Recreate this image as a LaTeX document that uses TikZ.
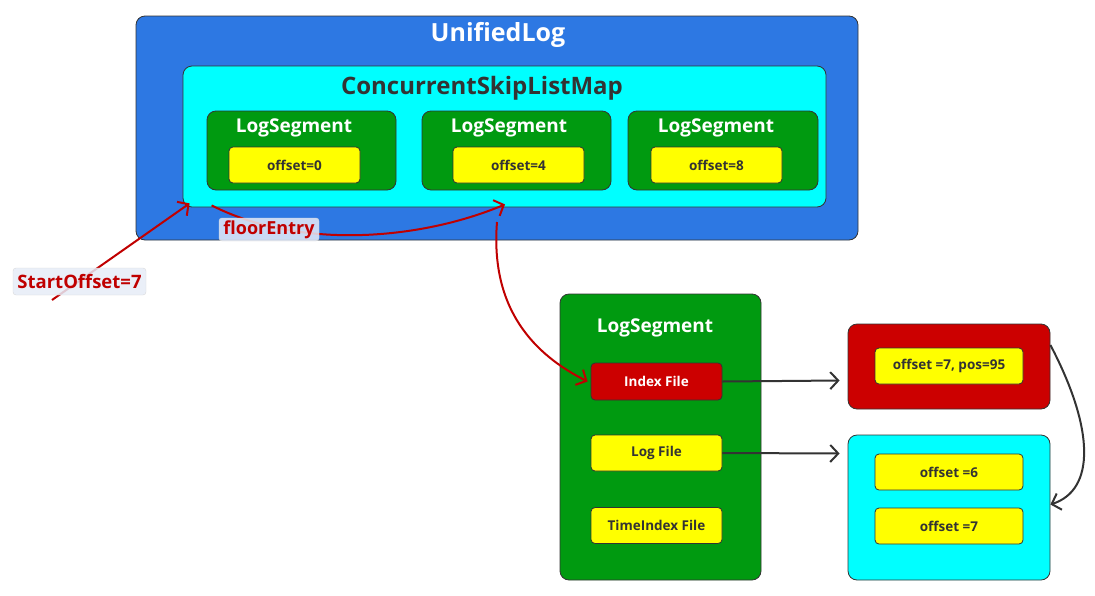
\documentclass[tikz,border=0pt]{standalone}
\usepackage{fontspec}
\setmainfont{Open Sans}
\usetikzlibrary{positioning,arrows.meta}

\definecolor{ulblue}{HTML}{2D78E3}
\definecolor{mapcyan}{HTML}{00FFFF}
\definecolor{fileyellow}{HTML}{FFFF00}
\definecolor{segreen}{HTML}{009A10}
\definecolor{boxred}{HTML}{CC0000}
\definecolor{txtred}{HTML}{C00000}
\definecolor{txtgray}{HTML}{333333}
\definecolor{lblfill}{HTML}{E6ECF7}

\begin{document}
\begin{tikzpicture}[x=1pt,y=-1pt,node distance=72.5pt,on grid,
	box/.style={draw=txtgray,line width=0.8pt,rounded corners=9pt,inner sep=0pt},
	file/.style={draw=txtgray,line width=0.8pt,rounded corners=4pt,inner sep=0pt,fill=fileyellow,
		minimum height=36pt,font=\fontsize{13.5}{14}\selectfont\bfseries,text=txtgray},
	title/.style={font=\fontsize{19}{20}\selectfont\bfseries,text=white},
	lbl/.style={draw=black!15,fill=lblfill,fill opacity=0.85,text opacity=1,rounded corners=3pt,
		text=txtred,font=\fontsize{18}{20}\selectfont\bfseries,inner sep=0pt},
	redarr/.style={draw=txtred,line width=2pt,-{Straight Barb[length=8pt,width=17pt]}},
	grayarr/.style={draw=txtgray,line width=2pt,-{Straight Barb[length=8pt,width=17pt]}}]
	\useasboundingbox (0,0) rectangle (1095,595);

	\node[box,fill=ulblue,minimum width=722pt,minimum height=224pt] (unified) at (497,128) {};
	\node[title,font=\fontsize{25}{26}\selectfont\bfseries] (unifiedT) at (498,35) {UnifiedLog};
	\node[box,fill=mapcyan,minimum width=643pt,minimum height=141pt] (map) at (504.5,136.5) {};
	\node[title,text=txtgray,font=\fontsize{24}{26}\selectfont\bfseries] (mapT) at (482,88.5) {ConcurrentSkipListMap};

	\node[box,fill=segreen,minimum width=189pt,minimum height=79pt] (seg1) at (301.5,150.5) {};
	\node[box,fill=segreen,minimum width=189pt,minimum height=79pt] (seg2) at (516.5,150.5) {};
	\node[box,fill=segreen,minimum width=190pt,minimum height=79pt] (seg3) at (723,150.5) {};
	\node[title] (seg1T) at (294,127.5) {LogSegment};
	\node[title] (seg2T) at (509,127.5) {LogSegment};
	\node[title] (seg3T) at (716,127.5) {LogSegment};
	\node[file,minimum width=131pt] (off1) at (294.5,165) {offset=0};
	\node[file,minimum width=131pt] (off2) at (518.5,165) {offset=4};
	\node[file,minimum width=131pt] (off3) at (716.5,165) {offset=8};

	\node[box,fill=segreen,minimum width=201pt,minimum height=286pt] (seg) at (660.5,437) {};
	\node[title] (segT) at (655,327.5) {LogSegment};
	\node[file,fill=boxred,text=white,minimum width=131pt,minimum height=37pt] (idx) at (656.5,381.5) {Index File};
	\node[file,minimum width=131pt] (logf) [below=71.5pt of idx] {Log File};
	\node[file,minimum width=131pt] (tidx) [below=of logf] {TimeIndex File};

	\node[box,fill=boxred,minimum width=202pt,minimum height=85pt] (idxbox) at (949,366.5) {};
	\node[file,minimum width=148pt] (pos) at (949,366) {offset =7, pos=95};
	\node[box,fill=mapcyan,minimum width=202pt,minimum height=145pt] (logbox) at (949,507.5) {};
	\node[file,minimum width=148pt] (o6) at (949,472) {offset =6};
	\node[file,minimum width=148pt] (o7) [below=54pt of o6] {offset =7};

	\coordinate (start) at (52,300);
	\coordinate (lookup) at (497,222);
	\draw[redarr] (start) -- ([shift={(7,-4)}]map.south west);
	\draw[redarr] ([shift={(29,-2)}]map.south west) .. controls (300,250) and (420,240) .. ([shift={(-11.5,14)}]seg2.south);
	\draw[redarr] (lookup) .. controls (490,310) and (535,355) .. ([xshift=-3pt]idx.west);
	\node[lbl,minimum width=100pt,minimum height=23pt] (floor) at (269,229.5) {floorEntry};
	\node[lbl,minimum width=133pt,minimum height=27pt,font=\fontsize{18.5}{20}\selectfont\bfseries] (startT) at (79.5,281.5) {StartOffset=7};

	\draw[grayarr] (idx.east) -- ([shift={(-8,14)}]idxbox.west);
	\draw[grayarr] (logf.east) -- ([shift={(-8,-54)}]logbox.west);
	\draw[grayarr] ([yshift=21.5]idxbox.east) .. controls (1095,430) and (1095,490) .. ([yshift=3]logbox.east);
\end{tikzpicture}
\end{document}
